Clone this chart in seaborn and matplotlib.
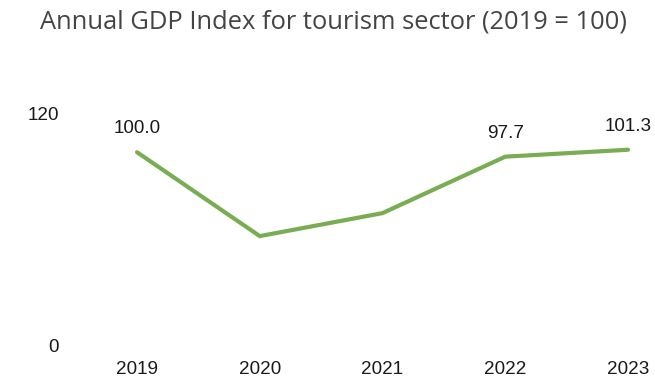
import matplotlib
matplotlib.use("Agg")
import matplotlib.pyplot as plt
import seaborn as sns
import pandas as pd

years = ["2019", "2020", "2021", "2022", "2023"]
gdp_index = [100.0, 56.6, 68.5, 97.7, 101.3]
labelled_years = ["2019", "2022", "2023"]
y_ticks = [0, 120]

sns.set_theme(style="white")
plt.rcParams["font.family"] = ["Liberation Sans", "DejaVu Sans"]

df = pd.DataFrame({"year": years, "index": gdp_index})

W, H = 655, 382
fig = plt.figure(figsize=(W / 100, H / 100), dpi=100)
fig.patch.set_facecolor("white")

# axes box in pixel terms
left_px, right_px, top_px, bottom_px = 70, 650, 90, 345.5
ax = fig.add_axes([left_px / W, (H - bottom_px) / H,
                   (right_px - left_px) / W, (bottom_px - top_px) / H])
ax.set_facecolor("white")

sns.lineplot(data=df, x="year", y="index", ax=ax, color="#7aad53",
             linewidth=3.0, solid_capstyle="round", solid_joinstyle="miter",
             errorbar=None)

ax.set_xlim(-0.546, 4.179)
ax.set_ylim(0, 132.2)
ax.set_yticks(y_ticks)
ax.set_yticklabels([str(t) for t in y_ticks])
ax.tick_params(axis="y", length=0, pad=8, labelsize=13.6, labelcolor="#1a1a1a")
ax.tick_params(axis="x", length=0, pad=11, labelsize=13.6, labelcolor="#1a1a1a")
ax.set_xlabel("")
ax.set_ylabel("")
for s in ax.spines.values():
    s.set_visible(False)
ax.grid(False)

for i, (yr, v) in enumerate(zip(years, gdp_index)):
    if yr in labelled_years:
        ax.annotate(f"{v:.1f}", xy=(i, v), xytext=(0, 17), textcoords="offset points",
                    ha="center", va="center", fontsize=13.6, color="#1a1a1a")

fig.text(333 / W, 1 - 22 / H, "Annual GDP Index for tourism sector (2019 = 100)",
         ha="center", va="center", fontsize=18.4, color="#444444",
         family=["Open Sans", "DejaVu Sans"])

fig.savefig("out.png", dpi=100, facecolor="white")
